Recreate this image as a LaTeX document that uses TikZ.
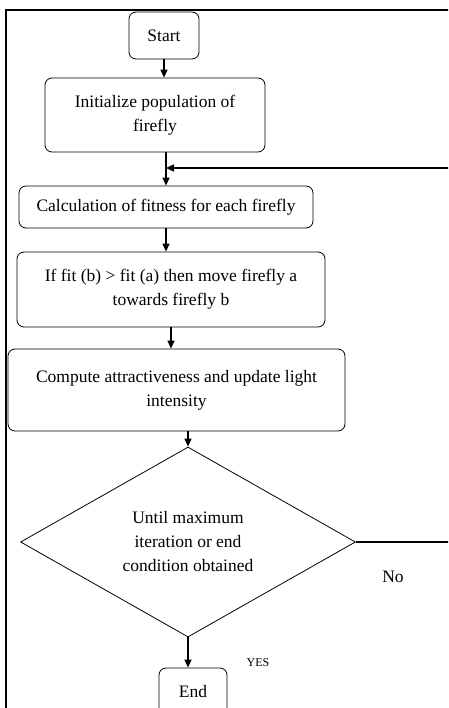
\documentclass[tikz,border=0pt]{standalone}
\usepackage{fontspec}
\setmainfont{Liberation Serif}
\usetikzlibrary{shapes.geometric,arrows.meta}

\tikzset{
	stepbox/.style={draw, rounded corners=7pt, align=center, inner sep=0pt, line width=0.8pt},
	decide/.style={draw, diamond, aspect=1.76, align=center, inner sep=0pt, line width=0.8pt},
	flow/.style={-{Triangle[length=8pt,width=7pt]}, line width=1.3pt},
	frame/.style={draw, line width=2.2pt}
}

\begin{document}
\begin{tikzpicture}[x=1pt, y=-1pt, font=\fontsize{17.5}{24}\selectfont]
	\useasboundingbox (0,0) rectangle (448,708);
	\clip (0,0) rectangle (448,708);

	\draw[frame] (6,10) rectangle (560,760);

	\node[stepbox, minimum width=70pt, minimum height=47pt]	(start)	at (164,35.5)	{Start};
	\node[stepbox, minimum width=220pt, minimum height=74pt]	(init)	at (155,115)	{Initialize population of\\firefly};
	\node[stepbox, minimum width=294pt, minimum height=42pt]	(calc)	at (166,207)	{Calculation of fitness for each firefly};
	\node[stepbox, minimum width=308pt, minimum height=75pt]	(move)	at (171,289.5)	{If fit (b) > fit (a) then move firefly a\\towards firefly b};
	\node[stepbox, minimum width=337pt, minimum height=82pt]	(update)	at (176.5,390)	{Compute attractiveness and update light\\intensity};
	\node[decide, minimum width=335pt, minimum height=190pt]	(until)	at (188,542)	{Until maximum\\iteration or end\\condition obtained};
	\node[stepbox, minimum width=68pt, minimum height=47pt]	(end)	at (193,691.5)	{End};

	\node	(no)	at (393,577)	{No};
	\node[font=\fontsize{12}{14}\selectfont]	(yes)	at (258,663)	{YES};

	\coordinate	(corner)	at (520,542);
	\coordinate	(merge)	at (166,168);

	\draw[flow]	(start.south) -- (start.south |- init.north);
	\draw[flow]	(calc.north |- init.south) -- (calc.north);
	\draw[flow]	(calc.south) -- (calc.south |- move.north);
	\draw[flow]	(move.south) -- (move.south |- update.north);
	\draw[flow]	(until.north |- update.south) -- (until.north);
	\draw[flow]	(until.south) -- (until.south |- end.north);
	\draw[flow]	(until.east) -- (corner) -- (corner |- merge) -- (merge);

\end{tikzpicture}
\end{document}
